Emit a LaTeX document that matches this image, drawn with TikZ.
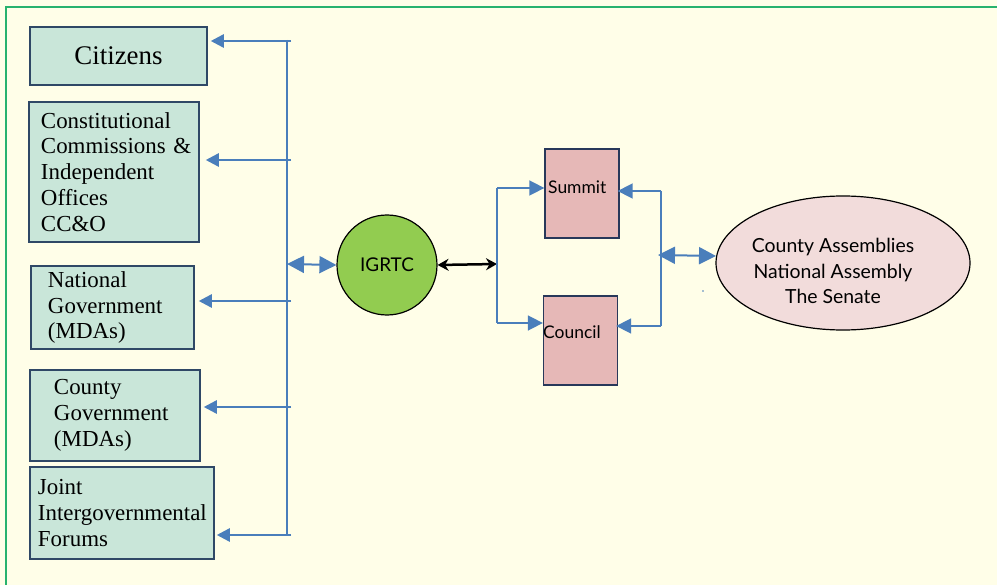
\documentclass[tikz,border=0pt]{standalone}
\usepackage{fontspec}
\setmainfont{Liberation Serif}
\newfontfamily\sansf{Lato}
\usetikzlibrary{arrows.meta,shapes.geometric}
\definecolor{bgyellow}{RGB}{255,254,232}
\definecolor{framegreen}{RGB}{40,178,110}
\definecolor{boxgreen}{RGB}{201,230,217}
\definecolor{boxedge}{RGB}{47,72,102}
\definecolor{pinkbox}{RGB}{230,184,183}
\definecolor{pinkedge}{RGB}{40,56,90}
\definecolor{ellfill}{RGB}{242,220,219}
\definecolor{circgreen}{RGB}{146,204,80}
\definecolor{arrblue}{RGB}{74,126,187}
\tikzset{
  lbox/.style={draw=boxedge,line width=1.5bp,fill=boxgreen,align=left,inner ysep=0pt,
    font=\fontsize{23}{26}\selectfont},
  pbox/.style={draw=pinkedge,line width=1.3bp,fill=pinkbox,minimum width=74bp,minimum height=89bp,inner sep=0pt},
  barr/.style={draw=arrblue,line width=2.5bp,-{Triangle[length=13bp,width=13bp]}},
  bline/.style={draw=arrblue,line width=1.5bp},
  bdbl/.style={draw=arrblue,line width=2bp,{Triangle[length=17bp,width=17bp]}-{Triangle[length=17bp,width=17bp]}},
  bsmall/.style={draw=arrblue,line width=1.6bp,-{Triangle[length=15bp,width=15bp]}},
}
\begin{document}
\begin{tikzpicture}[x=1bp,y=-1bp]
\useasboundingbox (0,0) rectangle (997,585);
\fill[bgyellow] (0,0) rectangle (997,585);
\draw[framegreen,line width=2bp] (6,585) -- (6,7) -- (997,7);

% left boxes
\node[lbox,minimum width=177bp,minimum height=58bp,align=center,text width=177bp,inner xsep=0pt,
  font=\fontsize{27}{30}\selectfont] (cit) at (118.5,56) {Citizens};
\node[lbox,minimum height=140bp,text width=146bp,inner xsep=12bp] (cco) at (114,172)
  {Constitutional\\Commissions~\&\\Independent\\Offices\\CC\&O};
\node[lbox,minimum height=83bp,text width=129bp,inner xsep=17bp] (nat) at (112.5,307.5)
  {National\\Government\\(MDAs)};
\node[lbox,minimum height=91bp,text width=122bp,inner xsep=24bp] (cty) at (115,415.5)
  {County\\Government\\(MDAs)};
\node[lbox,minimum height=92bp,text width=168bp,inner xsep=8bp] (jnt) at (122,513)
  {Joint\\Intergovernmental\\Forums};

% bus
\coordinate (bustop) at (287,40);
\coordinate (busbot) at (287,536);
\draw[bline] (bustop) -- (busbot);
\coordinate (b1) at (291,41);
\coordinate (b2) at (291,160);
\coordinate (b3) at (291,301);
\coordinate (b4) at (291,407);
\coordinate (b5) at (291,535);
\draw[barr,shorten >=3bp] (b1) -- (b1 -| cit.east);
\draw[barr,shorten >=6bp] (b2) -- (b2 -| cco.east);
\draw[barr,shorten >=4bp] (b3) -- (b3 -| nat.east);
\draw[barr,shorten >=3bp] (b4) -- (b4 -| cty.east);
\draw[barr,shorten >=2bp] (b5) -- (b5 -| jnt.east);

% IGRTC
\node[circle,draw=black,line width=1.2bp,fill=circgreen,minimum size=100bp,inner sep=0pt,
  font=\sansf\fontsize{19}{22}\selectfont] (ig) at (387,265) {IGRTC};
\coordinate (busmid) at (287,264);
\draw[bdbl] (busmid) -- (ig.west);

% branch to summit/council
\coordinate (br) at (497,264);
\coordinate (brtop) at (497,188);
\coordinate (brbot) at (497,323);
\draw[black,line width=2.5bp,{Stealth[length=11bp,width=12bp]}-{Stealth[length=11bp,width=12bp]}] (ig.east) -- (br);
\draw[bline] (brtop) -- (brbot);

\node[pbox] (sum) at (582,193.5) {};
\node[anchor=west,inner sep=0pt,font=\sansf\fontsize{17.5}{20}\selectfont] (sumt) at (548,187) {Summit};
\node[pbox] (cou) at (580.5,340.5) {};
\node[anchor=west,inner sep=0pt,font=\sansf\fontsize{17.5}{20}\selectfont] (cout) at (543,332) {Council};

\draw[bsmall] (brtop) -- (brtop -| sum.west);
\draw[bsmall] (brbot) -- (brbot -| cou.west);

% right bracket
\coordinate (rtop) at (661,191);
\coordinate (rbot) at (661,326);
\coordinate (rmid) at (658,255);
\draw[bline] (rtop) -- (rbot);
\draw[bsmall] (rtop) -- ([xshift=-2bp]rtop -| sum.east);
\draw[bsmall] (rbot) -- ([xshift=-2bp]rbot -| cou.east);

% ellipse
\node[ellipse,draw=black,line width=1.2bp,fill=ellfill,minimum width=254bp,minimum height=134bp,
  inner sep=0pt] (ell) at (843,263) {};
\node[align=center,inner sep=0pt,font=\sansf\fontsize{19.5}{26}\selectfont] (ellt) at (833,271)
  {County Assemblies\\National Assembly\\The Senate};
\coordinate (ellin) at (716,256);
\draw[bdbl] (rmid) -- (ellin);

\fill[arrblue] (703,291) circle (0.8bp);
\end{tikzpicture}
\end{document}
